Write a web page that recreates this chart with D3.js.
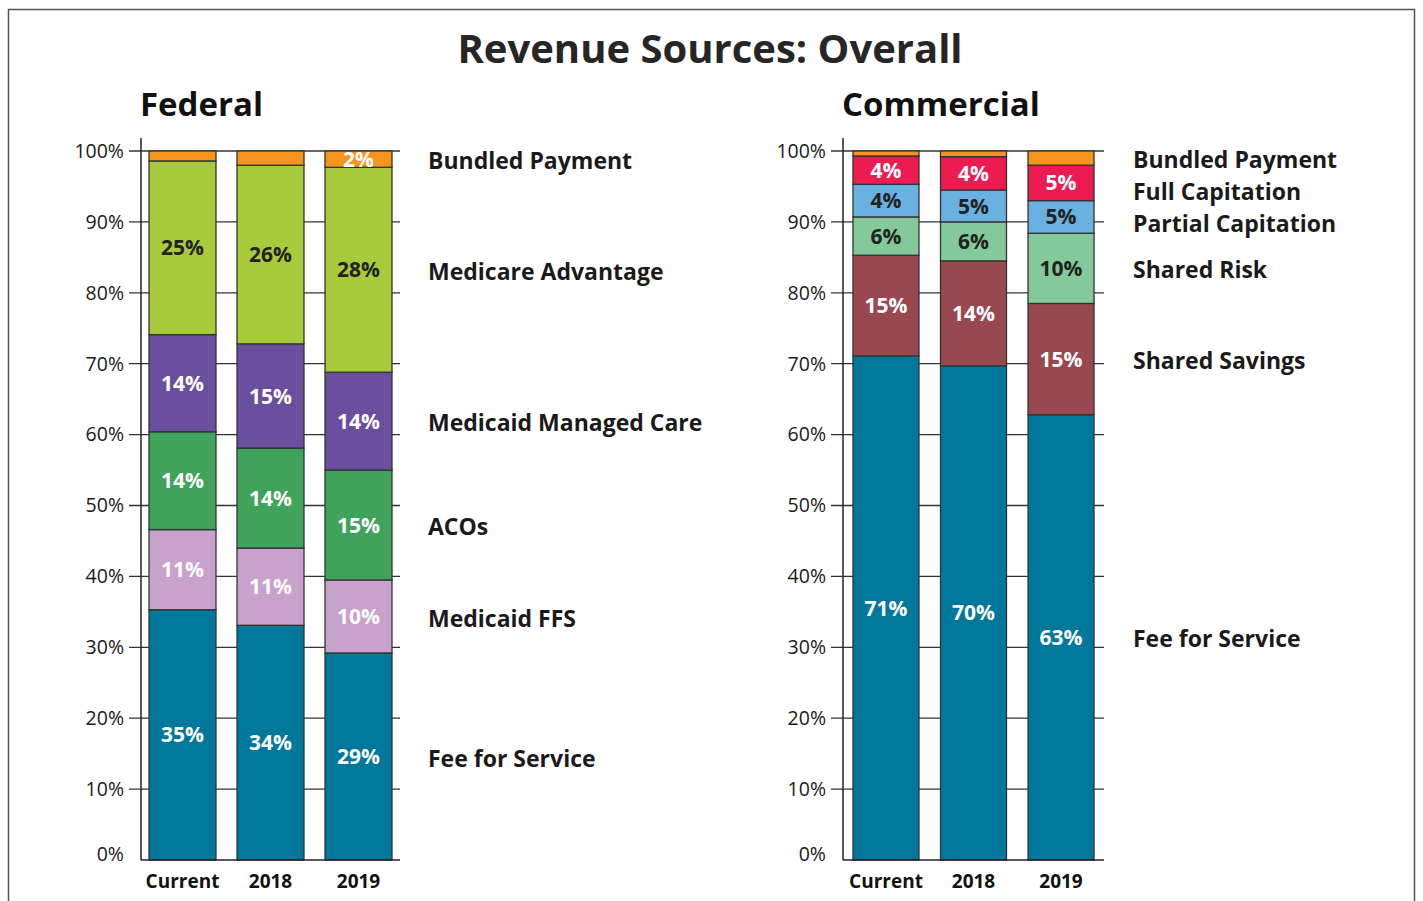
<!DOCTYPE html>
<html>
<head>
<meta charset="utf-8">
<title>Revenue Sources: Overall</title>
<script src="https://cdn.jsdelivr.net/npm/d3@7"></script>
<style>
  body { margin: 0; background: #fff; }
  svg text { font-family: "Open Sans", sans-serif; }
</style>
</head>
<body>
<svg id="chart" width="1423" height="901"></svg>
<script>
// bar categories
var years = ["Current", "2018", "2019"];
var yTicks = [0, 10, 20, 30, 40, 50, 60, 70, 80, 90, 100];

// Federal series (bottom to top), % of revenue
var fedKeys = ["Fee for Service", "Medicaid FFS", "ACOs", "Medicaid Managed Care", "Medicare Advantage", "Bundled Payment"];
var fedFeeForService = [35.3, 33.1, 29.2];
var fedMedicaidFFS   = [11.3, 10.9, 10.3];
var fedACOs          = [13.8, 14.1, 15.5];
var fedMedicaidMC    = [13.7, 14.7, 13.8];
var fedMedicareAdv   = [24.5, 25.2, 28.9];
var fedBundled       = [1.4, 2.0, 2.3];
var fedLabels = [
  ["35%", "34%", "29%"],
  ["11%", "11%", "10%"],
  ["14%", "14%", "15%"],
  ["14%", "15%", "14%"],
  ["25%", "26%", "28%"],
  ["", "", "2%"]
];

// Commercial series (bottom to top)
var comKeys = ["Fee for Service", "Shared Savings", "Shared Risk", "Partial Capitation", "Full Capitation", "Bundled Payment"];
var comFeeForService = [71.1, 69.7, 62.8];
var comSharedSavings = [14.2, 14.8, 15.7];
var comSharedRisk    = [5.4, 5.5, 9.9];
var comPartialCap    = [4.6, 4.5, 4.6];
var comFullCap       = [4.0, 4.7, 5.0];
var comBundled       = [0.7, 0.8, 2.0];
var comLabels = [
  ["71%", "70%", "63%"],
  ["15%", "14%", "15%"],
  ["6%", "6%", "10%"],
  ["4%", "5%", "5%"],
  ["4%", "4%", "5%"],
  ["", "", ""]
];

var fedColors = ["#00789c", "#c8a2cd", "#3fa35b", "#6a4f9f", "#a7cb3b", "#f7941e"];
var fedText   = ["#fff", "#fff", "#fff", "#fff", "#222", "#fff"];
var comColors = ["#00789c", "#9a4850", "#84c99a", "#68b1e0", "#ec1c52", "#f7941e"];
var comText   = ["#fff", "#fff", "#222", "#222", "#fff", "#fff"];

var svg = d3.select("#chart");

// outer frame
svg.append("rect")
  .attr("x", 8.5).attr("y", 9.5)
  .attr("width", 1406).attr("height", 900)
  .attr("fill", "none").attr("stroke", "#555").attr("stroke-width", 1.5);

svg.append("text")
  .attr("x", 710).attr("y", 63)
  .attr("text-anchor", "middle")
  .attr("font-size", 40).attr("font-weight", 700)
  .attr("fill", "#262626")
  .text("Revenue Sources: Overall");

var y = d3.scaleLinear().domain([0, 100]).range([860, 151]);

function drawPanel(opt) {
  var g = svg.append("g");

  var rows = years.map(function(yr, i) {
    var r = { year: yr };
    opt.keys.forEach(function(k, j) { r[k] = opt.series[j][i]; });
    return r;
  });
  var stacked = d3.stack().keys(opt.keys)(rows);

  var x = d3.scaleBand().domain(years)
    .range([opt.x0, opt.x1])
    .paddingInner(opt.pInner).paddingOuter(opt.pOuter);

  // title of panel
  g.append("text")
    .attr("x", opt.x0 - 1).attr("y", 116)
    .attr("font-size", 33).attr("font-weight", 700)
    .attr("fill", "#111")
    .text(opt.title);

  // grid lines
  g.selectAll(".grid").data(yTicks.filter(function(t) { return t > 0; }))
    .enter().append("line")
    .attr("x1", opt.x0 - 12).attr("x2", opt.x1)
    .attr("y1", function(d) { return y(d); })
    .attr("y2", function(d) { return y(d); })
    .attr("stroke", "#333").attr("stroke-width", 1.3);

  // tick labels
  g.selectAll(".ylab").data(yTicks)
    .enter().append("text")
    .attr("x", opt.x0 - 17)
    .attr("y", function(d) { return d === 0 ? y(d) - 6 : y(d); })
    .attr("dy", "0.35em")
    .attr("text-anchor", "end")
    .attr("font-size", 19.5)
    .attr("fill", "#1a1a1a")
    .text(function(d) { return d + "%"; });

  // bars
  var layer = g.selectAll(".layer").data(stacked)
    .enter().append("g")
    .attr("fill", function(d, i) { return opt.colors[i]; });

  layer.selectAll("rect").data(function(d) { return d; })
    .enter().append("rect")
    .attr("x", function(d) { return x(d.data.year); })
    .attr("y", function(d) { return y(d[1]); })
    .attr("width", x.bandwidth())
    .attr("height", function(d) { return y(d[0]) - y(d[1]); })
    .attr("stroke", "#333").attr("stroke-width", 1.3);

  // value labels
  stacked.forEach(function(s, j) {
    g.selectAll(null).data(s)
      .enter().append("text")
      .attr("x", function(d) { return x(d.data.year) + x.bandwidth() / 2; })
      .attr("y", function(d) { return (y(d[0]) + y(d[1])) / 2; })
      .attr("dy", "0.36em")
      .attr("text-anchor", "middle")
      .attr("font-size", 21).attr("font-weight", 700)
      .attr("fill", opt.textColors[j])
      .text(function(d, i) { return opt.labels[j][i]; });
  });

  // axes lines
  g.append("line")
    .attr("x1", opt.x0).attr("x2", opt.x0)
    .attr("y1", 138).attr("y2", y(0))
    .attr("stroke", "#222").attr("stroke-width", 1.5);
  g.append("line")
    .attr("x1", opt.x0).attr("x2", opt.x1)
    .attr("y1", y(0)).attr("y2", y(0))
    .attr("stroke", "#222").attr("stroke-width", 1.5);

  // category labels
  g.selectAll(".xlab").data(years)
    .enter().append("text")
    .attr("x", function(d) { return x(d) + x.bandwidth() / 2; })
    .attr("y", 888)
    .attr("text-anchor", "middle")
    .attr("font-size", 19).attr("font-weight", 700)
    .attr("fill", "#111")
    .text(function(d) { return d; });

  // series names next to last bar, pushed apart when crowded
  var last = years.length - 1;
  var pos = stacked.map(function(s) { return (y(s[last][0]) + y(s[last][1])) / 2 + 2; });
  var order = d3.range(pos.length).reverse(); // top first
  var prev = -Infinity;
  order.forEach(function(j) {
    if (pos[j] < prev + 32) pos[j] = prev + 32;
    prev = pos[j];
  });
  g.selectAll(".leg").data(opt.keys)
    .enter().append("text")
    .attr("x", opt.legendX)
    .attr("y", function(d, j) { return pos[j]; })
    .attr("dy", "0.35em")
    .attr("font-size", 23).attr("font-weight", 700)
    .attr("fill", "#1a1a1a")
    .text(function(d) { return d; });
}

drawPanel({
  title: "Federal",
  keys: fedKeys,
  series: [fedFeeForService, fedMedicaidFFS, fedACOs, fedMedicaidMC, fedMedicareAdv, fedBundled],
  labels: fedLabels,
  colors: fedColors,
  textColors: fedText,
  x0: 141, x1: 400, pInner: 0.239, pOuter: 0.091,
  legendX: 428
});

drawPanel({
  title: "Commercial",
  keys: comKeys,
  series: [comFeeForService, comSharedSavings, comSharedRisk, comPartialCap, comFullCap, comBundled],
  labels: comLabels,
  colors: comColors,
  textColors: comText,
  x0: 843, x1: 1104, pInner: 0.246, pOuter: 0.114,
  legendX: 1133
});
</script>
</body>
</html>
